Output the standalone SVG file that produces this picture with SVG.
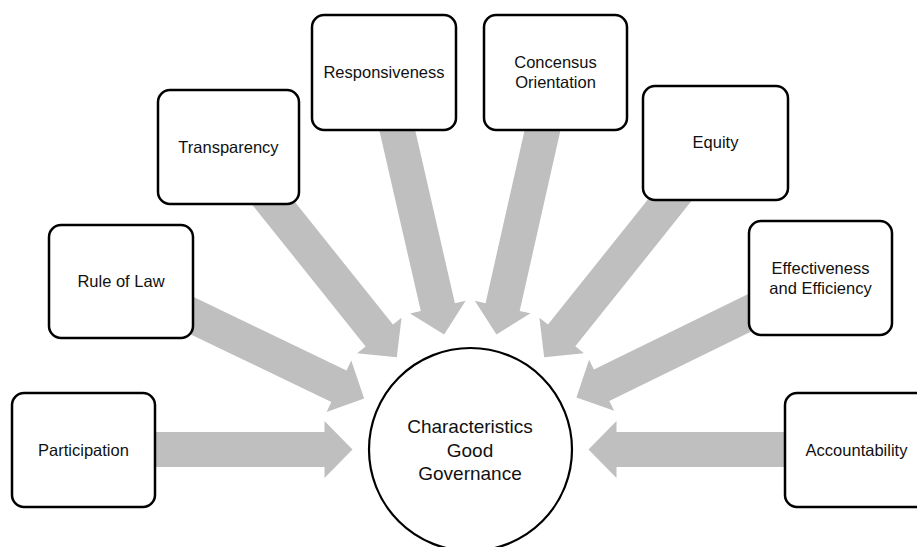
<svg xmlns="http://www.w3.org/2000/svg" xmlns:xlink="http://www.w3.org/1999/xlink" width="917" height="547" viewBox="0 0 917 547">
  <style>
    .box { fill: #ffffff; stroke: #000000; stroke-width: 2.5; }
    .hub { fill: #ffffff; stroke: #000000; stroke-width: 2.2; }
    .arrow { fill: #bfbfbf; stroke: none; }
    .lbl { font-family: "Liberation Sans", Arial, sans-serif; font-size: 16.5px; fill: #111111; text-anchor: middle; }
    .hubtxt { font-family: "Liberation Sans", Arial, sans-serif; font-size: 19px; fill: #111111; text-anchor: middle; }
  </style>
  <defs>
    <!-- block arrow pointing along +x, tip 118px short of the hub centre -->
    <polygon id="blockArrow" points="-380,-17.5 -146,-17.5 -146,-28.5 -118,0 -146,28.5 -146,17.5 -380,17.5"/>
  </defs>

  <rect width="917" height="547" fill="#ffffff"/>

  <!-- connectors: block arrows converging on the hub -->
  <g id="connectors" class="arrow" transform="translate(470.5 449.5)">
    <use xlink:href="#blockArrow" transform="rotate(0)"/>
    <use xlink:href="#blockArrow" transform="rotate(25.67)"/>
    <use xlink:href="#blockArrow" transform="rotate(51.34)"/>
    <use xlink:href="#blockArrow" transform="rotate(77.08)"/>
    <use xlink:href="#blockArrow" transform="rotate(102.71)"/>
    <use xlink:href="#blockArrow" transform="rotate(128.63)"/>
    <use xlink:href="#blockArrow" transform="rotate(153.9)"/>
    <use xlink:href="#blockArrow" transform="rotate(180)"/>
  </g>

  <!-- hub -->
  <g id="hub">
    <circle class="hub" cx="470.5" cy="449.5" r="101.5"/>
    <text class="hubtxt" x="470" y="433">Characteristics</text>
    <text class="hubtxt" x="470" y="456.5">Good</text>
    <text class="hubtxt" x="470" y="479.5">Governance</text>
  </g>

  <!-- outer nodes -->
  <g id="participation">
    <rect class="box" x="12" y="393" width="143" height="114" rx="12"/>
    <text class="lbl" x="83.5" y="456">Participation</text>
  </g>
  <g id="rule-of-law">
    <rect class="box" x="49" y="225" width="144" height="113" rx="12"/>
    <text class="lbl" x="121" y="287">Rule of Law</text>
  </g>
  <g id="transparency">
    <rect class="box" x="158" y="90" width="141" height="114" rx="12"/>
    <text class="lbl" x="228.5" y="152.5">Transparency</text>
  </g>
  <g id="responsiveness">
    <rect class="box" x="312" y="15" width="144" height="115" rx="12"/>
    <text class="lbl" x="384" y="78">Responsiveness</text>
  </g>
  <g id="consensus-orientation">
    <rect class="box" x="484" y="15" width="143" height="115" rx="12"/>
    <text class="lbl" x="555.5" y="68">Concensus</text>
    <text class="lbl" x="555.5" y="88">Orientation</text>
  </g>
  <g id="equity">
    <rect class="box" x="643" y="86" width="145" height="114" rx="12"/>
    <text class="lbl" x="715.5" y="148">Equity</text>
  </g>
  <g id="effectiveness-efficiency">
    <rect class="box" x="749" y="221" width="143" height="114" rx="12"/>
    <text class="lbl" x="820.5" y="274">Effectiveness</text>
    <text class="lbl" x="820.5" y="294">and Efficiency</text>
  </g>
  <g id="accountability">
    <rect class="box" x="785" y="393" width="143" height="114" rx="12"/>
    <text class="lbl" x="856.5" y="456">Accountability</text>
  </g>
</svg>
